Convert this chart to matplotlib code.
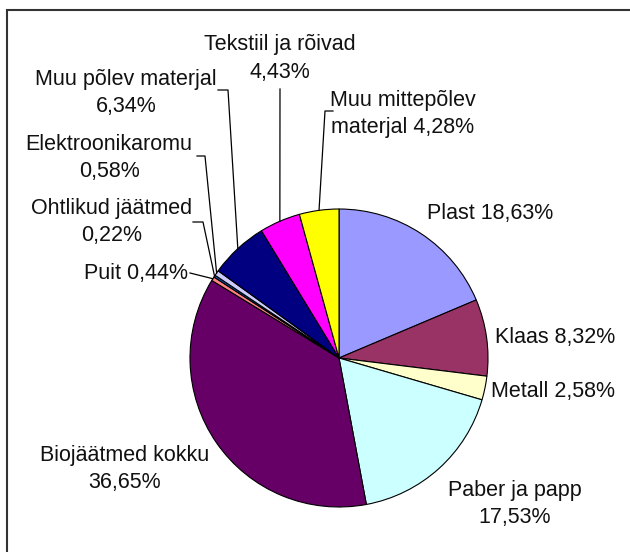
import numpy as np
import matplotlib.pyplot as plt
from matplotlib.patches import Rectangle

plt.rcParams['font.family'] = ['Liberation Sans', 'DejaVu Sans']

# andmed (päripäeva alates kella 12-st)
names = ['Plast', 'Klaas', 'Metall', 'Paber ja papp', 'Biojäätmed kokku',
         'Puit', 'Ohtlikud jäätmed', 'Elektroonikaromu', 'Muu põlev materjal',
         'Tekstiil ja rõivad', 'Muu mittepõlev materjal']
shares = [18.63, 8.32, 2.58, 17.53, 36.65, 0.44, 0.22, 0.58, 6.34, 4.43, 4.28]
labels = ['Plast 18,63%', 'Klaas 8,32%', 'Metall 2,58%', 'Paber ja papp\n17,53%',
          'Biojäätmed kokku\n36,65%', 'Puit 0,44%', 'Ohtlikud jäätmed\n0,22%',
          'Elektroonikaromu\n0,58%', 'Muu põlev materjal\n6,34%',
          'Tekstiil ja rõivad\n4,43%', 'Muu mittepõlev\nmaterjal 4,28%']
colors = ['#9999FF', '#993366', '#FFFFCC', '#CCFFFF', '#660066', '#FF8080',
          '#0066CC', '#CCCCFF', '#000080', '#FF00FF', '#FFFF00']

W, H = 630, 552
fig = plt.figure(figsize=(W / 100, H / 100), dpi=100)
ax = fig.add_axes([0, 0, 1, 1])

cx, cy, r = 339, H - 358, 149
wedges, _ = ax.pie(shares, colors=colors, startangle=90, counterclock=False,
                   center=(cx, cy), radius=r, frame=True,
                   wedgeprops=dict(edgecolor='black', linewidth=0.8))
ax.set_xlim(0, W)
ax.set_ylim(0, H)
ax.set_aspect('equal')
ax.axis('off')

# raam
ax.add_patch(Rectangle((6.5, -20), 700, H - 9.5 + 20, fill=False,
                       edgecolor='#333333', linewidth=1.5))

# sildi keskpunktid (pikslites ülalt) ja juhtjoonte küünarnukid
label_pos = [(490, 213), (555, 337), (553, 392), (515, 504), (125, 469),
             (136, 273), (112, 222), (109, 158), (126, 93), (280, 58.5), (403, 114)]
elbows = {5: [(190, 273)],
          6: [(193, 222), (203, 222)],
          7: [(197, 156), (205, 156)],
          8: [(218, 90), (228, 90)],
          9: [(280, 89)],
          10: [(333, 111), (325, 111)]}

for i, w in enumerate(wedges):
    x, y = label_pos[i]
    ax.text(x, H - y, labels[i], ha='center', va='center', fontsize=15.5,
            linespacing=1.4, color='#111111')
    if i in elbows:
        mid = np.deg2rad((w.theta1 + w.theta2) / 2)
        ex, ey = cx + r * np.cos(mid), cy + r * np.sin(mid)
        pts = [(px, H - py) for px, py in elbows[i]] + [(ex, ey)]
        xs, ys = zip(*pts)
        ax.plot(xs, ys, color='black', linewidth=0.9)

fig.savefig('out.png', dpi=100, facecolor='white')
